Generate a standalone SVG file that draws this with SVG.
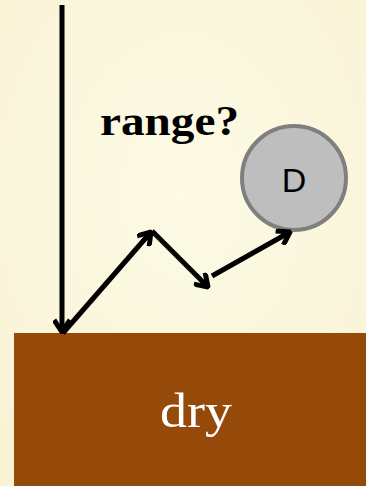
<svg xmlns="http://www.w3.org/2000/svg" width="366" height="486" viewBox="0 0 366 486">
<style>
.ln{fill:none;stroke:#000;stroke-width:5;stroke-linecap:butt}
</style>
<defs>
<marker id="ah" viewBox="-14 -9 16 18" markerWidth="16" markerHeight="18" refX="0" refY="0" orient="auto" markerUnits="userSpaceOnUse">
<path d="M-12,-8 L0,0 L-12,8" fill="none" stroke="#000" stroke-width="5" stroke-linejoin="miter"/>
</marker>
<radialGradient id="bg" cx="50%" cy="40%" r="70%">
<stop offset="0" stop-color="#FDFBE6"/>
<stop offset="1" stop-color="#F9F3D6"/>
</radialGradient>
</defs>
<rect width="366" height="486" fill="url(#bg)"/>
<g id="ground">
<rect x="14" y="333" width="352" height="153" fill="#964A09"/>
<text x="196" y="427" text-anchor="middle" font-family="'Liberation Serif',serif" font-size="49" fill="#fff" textLength="72" lengthAdjust="spacingAndGlyphs">dry</text>
</g>
<g id="label">
<text x="100" y="135" font-family="'Liberation Serif',serif" font-weight="bold" font-size="42" fill="#000" textLength="139" lengthAdjust="spacingAndGlyphs">range?</text>
</g>
<g id="D">
<circle cx="294" cy="178" r="52" fill="#BEBEBE" stroke="#7F7F7F" stroke-width="4"/>
<text x="294" y="192" text-anchor="middle" font-family="'Liberation Sans',sans-serif" font-size="34" fill="#000">D</text>
</g>
<g id="connectors">
<line class="ln" x1="62" y1="5" x2="62" y2="332" stroke-width="4" marker-end="url(#ah)"/>
<line class="ln" x1="63" y1="333" x2="151" y2="232" marker-end="url(#ah)"/>
<line class="ln" x1="152" y1="231" x2="208" y2="287" marker-end="url(#ah)"/>
<line class="ln" x1="212" y1="276" x2="290" y2="232" marker-end="url(#ah)"/>
</g>
</svg>
